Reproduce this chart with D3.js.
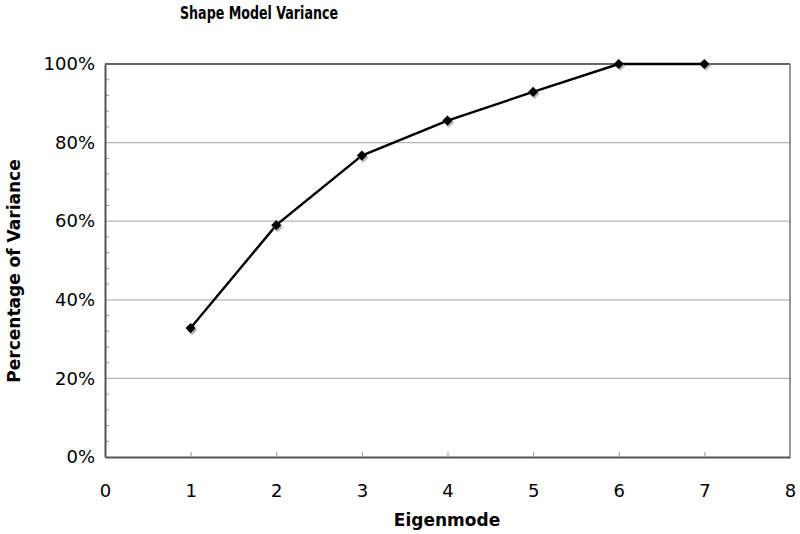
<!DOCTYPE html>
<html lang="en">
<head>
    <meta charset="UTF-8">
    <title>Shape Model Variance</title>
    <style>
        body { margin: 0; background: #fff; }
        text { font-family: "DejaVu Sans", Verdana, sans-serif; fill: #000; }
    </style>
</head>
<body>
<script src="https://d3js.org/d3.v7.min.js"></script>
<script>
    // data
    let modes = [1, 2, 3, 4, 5, 6, 7];
    let variance = [32.8, 59.0, 76.7, 85.6, 92.9, 100, 100];
    let xTicks = [0, 1, 2, 3, 4, 5, 6, 7, 8];
    let yTicks = [0, 20, 40, 60, 80, 100];

    let w = 800, h = 534;
    let inner = {top: 64, right: 10, bottom: 77, left: 105};

    let svg = d3.select("body")
        .append("svg")
        .attr("width", w)
        .attr("height", h);

    let xScale = d3.scaleLinear()
        .domain([0, 8])
        .range([inner.left, w - inner.right]);

    let yScale = d3.scaleLinear()
        .domain([0, 100])
        .range([h - inner.bottom, inner.top]);

    // gridlines
    svg.append("g")
        .selectAll("line")
        .data(yTicks.filter(d => d > 0 && d < 100))
        .enter()
        .append("line")
        .attr("x1", xScale(0))
        .attr("x2", xScale(8))
        .attr("y1", d => yScale(d))
        .attr("y2", d => yScale(d))
        .attr("stroke", "#b4b4b4")
        .attr("stroke-width", 1.2);

    // frame top + right
    svg.append("line")
        .attr("x1", xScale(0)).attr("x2", xScale(8))
        .attr("y1", yScale(100)).attr("y2", yScale(100))
        .attr("stroke", "#666").attr("stroke-width", 2);
    svg.append("line")
        .attr("x1", xScale(8)).attr("x2", xScale(8))
        .attr("y1", yScale(100)).attr("y2", yScale(0))
        .attr("stroke", "#777").attr("stroke-width", 1.5);

    // minor ticks on y axis (every 4%)
    let minor = d3.range(0, 101, 4).filter(d => d % 20 !== 0);
    svg.append("g")
        .selectAll("line")
        .data(minor)
        .enter()
        .append("line")
        .attr("x1", xScale(0))
        .attr("x2", xScale(0) + 4)
        .attr("y1", d => yScale(d))
        .attr("y2", d => yScale(d))
        .attr("stroke", "#999")
        .attr("stroke-width", 1);

    // x axis
    let xAxis = d3.axisBottom(xScale)
        .tickValues(xTicks)
        .tickSizeInner(-5)
        .tickSizeOuter(0)
        .tickPadding(27)
        .tickFormat(d3.format("d"));

    let gx = svg.append("g")
        .attr("transform", "translate(0," + yScale(0) + ")")
        .call(xAxis);
    gx.select(".domain").attr("stroke", "#555").attr("stroke-width", 2);
    gx.selectAll(".tick line").attr("stroke", "#999");
    gx.selectAll("text").style("font-size", "18px");

    // y axis
    let yAxis = d3.axisLeft(yScale)
        .tickValues(yTicks)
        .tickSize(0)
        .tickPadding(10)
        .tickFormat(d => d + "%");

    let gy = svg.append("g")
        .attr("transform", "translate(" + xScale(0) + ",0)")
        .call(yAxis);
    gy.select(".domain").attr("stroke", "#555").attr("stroke-width", 2);
    gy.selectAll("text").style("font-size", "18px");

    // line
    let pts = modes.map((m, i) => ({x: m, y: variance[i]}));
    let line = d3.line()
        .x(d => xScale(d.x))
        .y(d => yScale(d.y));

    svg.append("path")
        .attr("d", line(pts))
        .attr("fill", "none")
        .attr("stroke", "#000")
        .attr("stroke-width", 2.4);

    // diamond markers (rotated squares) with grey shadow
    let diamond = d3.symbol().type(d3.symbolSquare).size(52);
    svg.append("g")
        .selectAll("path")
        .data(pts)
        .enter()
        .append("path")
        .attr("d", diamond)
        .attr("transform", d => "translate(" + (xScale(d.x) + 1.5) + "," + (yScale(d.y) + 2) + ") rotate(45)")
        .attr("fill", "#a8a8a8")
        .attr("opacity", 0.8);
    svg.append("g")
        .selectAll("path")
        .data(pts)
        .enter()
        .append("path")
        .attr("d", diamond)
        .attr("transform", d => "translate(" + xScale(d.x) + "," + yScale(d.y) + ") rotate(45)")
        .attr("fill", "#000");

    // titles
    svg.append("text")
        .attr("x", 259)
        .attr("y", 19)
        .attr("text-anchor", "middle")
        .attr("textLength", 158)
        .attr("lengthAdjust", "spacingAndGlyphs")
        .style("font-family", "'DejaVu Sans Condensed', 'DejaVu Sans', sans-serif")
        .style("font-weight", "bold")
        .style("font-size", "17px")
        .text("Shape Model Variance");

    svg.append("text")
        .attr("x", 447)
        .attr("y", 526)
        .attr("text-anchor", "middle")
        .style("font-weight", "bold")
        .style("font-size", "17px")
        .text("Eigenmode");

    svg.append("text")
        .attr("transform", "translate(20," + 271 + ") rotate(-90)")
        .attr("text-anchor", "middle")
        .style("font-weight", "bold")
        .style("font-size", "17px")
        .text("Percentage of Variance");
</script>
</body>
</html>
